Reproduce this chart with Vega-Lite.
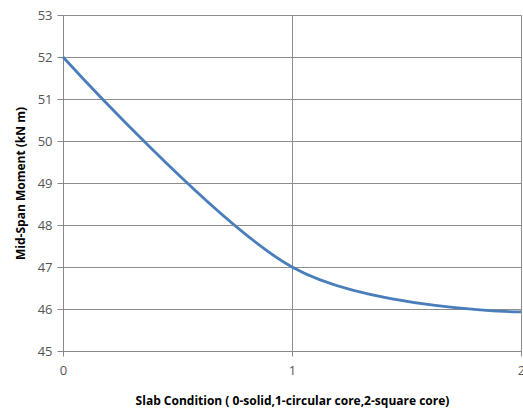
{
  "$schema": "https://vega.github.io/schema/vega-lite/v6.json",
  "width": 458,
  "height": 336,
  "autosize": {"type": "none"},
  "padding": {"left": 63, "top": 15, "right": 2, "bottom": 63},
  "background": "white",
  "config": {"view": {"stroke": null}, "font": "Open Sans"},
  "data": {"values": [
    {"x": 0, "y": 52},
    {"x": 1, "y": 47},
    {"x": 2, "y": 45.93}
  ]},
  "mark": {"type": "line", "interpolate": "cardinal", "tension": 0, "color": "#4A7EBB", "strokeWidth": 2.8},
  "encoding": {
    "x": {
      "field": "x", "type": "quantitative",
      "scale": {"domain": [0, 2], "nice": false},
      "axis": {
        "tickCount": 2,
        "labelOverlap": false, "labelFlush": false, "labelBound": false,
        "title": "Slab Condition ( 0-solid,1-circular core,2-square core)",
        "titleFont": "Open Sans", "titleFontSize": 12, "titleFontWeight": "bold", "titleColor": "#000",
        "titlePadding": 18,
        "labelFont": "Open Sans", "labelFontSize": 13, "labelColor": "#555", "labelPadding": 8,
        "domainColor": "#888", "tickColor": "#888", "tickSize": 5,
        "grid": true, "gridColor": "#8c8c8c", "gridOpacity": 1
      }
    },
    "y": {
      "field": "y", "type": "quantitative",
      "scale": {"domain": [45, 53], "nice": false, "zero": false},
      "axis": {
        "values": [45, 46, 47, 48, 49, 50, 51, 52, 53],
        "labelOverlap": false,
        "title": "Mid-Span Moment (kN m)",
        "titleFont": "Open Sans", "titleFontSize": 12, "titleFontWeight": "bold", "titleColor": "#000",
        "titlePadding": 10,
        "labelFont": "Open Sans", "labelFontSize": 13, "labelColor": "#555", "labelPadding": 5,
        "domainColor": "#888", "tickColor": "#888", "tickSize": 6,
        "grid": true, "gridColor": "#8c8c8c", "gridOpacity": 1
      }
    }
  }
}
